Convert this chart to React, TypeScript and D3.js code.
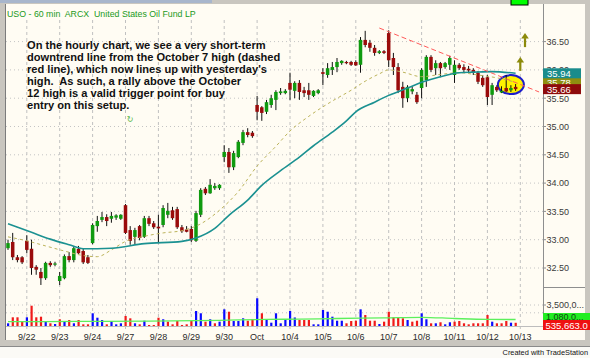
import React from "react";
import * as d3 from "d3";

// ---------- DATA ----------
const opens = [32.85,32.96,32.69,32.69,32.98,32.84,32.52,32.43,32.32,32.59,
32.56,32.27,32.32,32.71,32.64,32.84,32.80,32.69,32.94,33.24,
33.35,33.40,33.37,33.39,33.37,33.61,33.17,33.05,33.24,33.05,
33.38,33.29,33.23,33.26,33.44,33.52,33.54,33.22,33.18,33.19,
32.98,33.44,33.90,33.82,33.91,33.91,34.46,34.55,34.28,34.46,
34.71,34.90,34.89,35.38,35.34,35.26,35.38,35.47,35.59,35.59,
35.77,35.63,35.77,35.64,35.64,35.54,35.59,35.96,35.91,36.00,
36.05,36.12,36.14,36.14,36.14,36.09,36.53,36.48,36.39,36.30,
36.33,36.65,36.21,36.05,35.70,35.50,35.62,35.56,35.68,35.82,
36.23,36.03,36.12,36.05,36.09,35.91,36.09,36.05,36.02,36.00,
35.95,35.86,35.87,35.56,35.70,35.60,35.68,35.64,35.70];
const highs = [33.00,33.12,32.73,32.71,33.08,33.00,32.55,32.50,32.61,32.62,
32.61,32.43,32.74,32.78,32.89,32.89,32.84,32.73,33.29,33.42,
33.49,33.45,33.49,33.45,33.45,33.63,33.24,33.21,33.26,33.42,
33.42,33.33,33.44,33.61,33.65,33.58,33.58,33.26,33.24,33.24,
33.51,33.91,33.93,34.07,34.00,33.98,34.67,34.62,34.57,34.76,
34.94,34.97,34.92,35.54,35.36,35.47,35.56,35.64,35.68,35.66,
35.95,35.80,35.82,35.70,35.77,35.64,35.66,36.03,36.12,36.14,
36.21,36.17,36.16,36.16,36.17,36.58,36.69,36.53,36.44,36.35,
36.35,36.70,36.30,36.12,35.79,35.73,35.71,35.61,36.03,36.26,
36.26,36.17,36.14,36.14,36.25,36.17,36.12,36.10,36.07,36.03,
35.98,35.91,35.91,35.77,35.73,35.71,35.91,35.73,35.75];
const lows = [32.82,32.64,32.60,32.57,32.76,32.38,32.38,32.20,32.29,32.52,
32.53,32.20,32.30,32.60,32.60,32.75,32.57,32.57,32.92,33.14,
33.31,33.24,33.30,33.35,33.35,33.10,32.91,32.92,32.99,33.03,
33.24,33.19,32.94,33.22,33.38,33.35,33.19,33.12,33.13,32.96,
32.96,33.40,33.79,33.81,33.88,33.88,34.37,34.18,34.23,34.44,
34.67,34.81,34.80,35.11,35.10,35.22,35.33,35.29,35.56,35.57,
35.47,35.50,35.47,35.52,35.47,35.52,35.57,35.73,35.86,35.91,
35.96,36.09,36.10,36.07,36.07,35.95,36.40,36.32,36.25,36.28,
36.28,36.05,35.91,35.59,35.33,35.43,35.57,35.40,35.50,35.70,
35.96,35.91,35.87,36.02,36.00,35.77,36.00,35.95,35.96,35.91,
35.75,35.70,35.38,35.38,35.61,35.59,35.61,35.61,35.63];
const closes = [32.94,32.69,32.64,32.60,32.82,32.50,32.47,32.32,32.59,32.55,
32.58,32.36,32.71,32.64,32.85,32.76,32.60,32.59,33.26,33.33,
33.40,33.33,33.42,33.43,33.44,33.12,32.98,33.17,33.03,33.38,
33.28,33.22,33.20,33.56,33.51,33.38,33.22,33.15,33.14,32.99,
33.47,33.88,33.82,33.97,33.95,33.97,34.55,34.28,34.53,34.73,
34.90,34.85,34.83,35.26,35.24,35.43,35.50,35.61,35.62,35.63,
35.65,35.77,35.61,35.59,35.56,35.63,35.64,35.93,36.03,36.05,
36.14,36.16,36.12,36.09,36.08,36.53,36.44,36.39,36.30,36.33,
36.30,36.17,36.05,35.64,35.50,35.70,35.66,35.43,36.00,36.23,
36.00,36.12,36.03,36.12,36.21,36.09,36.03,36.00,35.99,35.95,
35.79,35.73,35.52,35.73,35.64,35.63,35.62,35.68,35.66];
const volumes = [450000,1450000,1450000,830000,1450000,3380000,1450000,1550000,830000,450000,
330000,1120000,720000,1000000,450000,1000000,280000,280000,2120000,1380000,
1000000,280000,830000,280000,450000,1670000,1280000,450000,280000,880000,
170000,170000,1380000,1120000,720000,280000,830000,170000,280000,830000,
2500000,2120000,720000,1120000,450000,720000,2780000,2380000,830000,830000,
1280000,880000,1170000,4620000,2120000,1120000,550000,2120000,450000,1120000,
2500000,1420000,1000000,1000000,1000000,280000,280000,2670000,2380000,1550000,
880000,880000,450000,830000,880000,2780000,1830000,880000,880000,330000,
720000,2380000,1450000,1450000,1280000,1000000,720000,880000,2120000,1120000,
450000,450000,620000,280000,620000,720000,830000,450000,280000,450000,
450000,450000,1830000,720000,450000,450000,830000,550000,535663];

// slow moving average (teal) at bar indices
const slowMaIdx = [0,5,9,13,16,22,29,37,40,44,47,51,54,58,62,65,69,72,74,78,81,85,88,92,96,99,103,108];
const slowMaVal = [33.28,33.13,33.01,32.91,32.84,32.85,32.93,32.97,33.03,33.20,33.43,33.70,33.96,34.22,34.46,34.66,34.90,35.10,35.26,35.43,35.55,35.68,35.78,35.88,35.95,35.96,35.97,35.94];
// fast moving average (dashed olive)
const fastMaIdx = [0,4,8,12,16,19,22,25,29,33,37,41,45,49,53,57,60,64,69,73,76,79,81,84,88,92,96,100,104,108];
const fastMaVal = [33.05,32.98,32.89,32.80,32.72,32.70,32.82,32.97,33.06,33.12,33.16,33.28,33.52,33.85,34.30,34.65,34.92,35.18,35.45,35.64,35.80,35.93,36.00,35.96,35.88,35.92,35.95,35.91,35.86,35.78];
// volume average (green)
const volAvgIdx = [0,15,30,45,55,62,70,80,88,95,102,108];
const volAvgVal = [720000,760000,800000,950000,1100000,1150000,1250000,1350000,1450000,1250000,1100000,1080000];

const dayLabels = ["9/22","9/23","9/24","9/27","9/28","9/29","9/30","Oct","10/4","10/5","10/6","10/7","10/8","10/11","10/12","10/13"];
const dayStartIdx = [4,11,18,25,32,39,46,53,60,67,74,81,88,95,102,109];
const priceTicks = [32.5,33,33.5,34,34.5,35,35.5,36,36.5];
const volTicks = [3500000];
const volGrid = [3500000,2200000];

// annotations (bar index, price)
const trendFrom = [79, 36.74];
const trendTo = [113, 35.61];
const arrowTips = [[110, 36.65],[109, 36.23]];
const circleCenter = [107, 35.74];
const markerPos = [26, 35.08];

const noteLines = [
  "On the hourly chart, we see a very short-term",
  "downtrend line from the October 7 high (dashed",
  "red line), which now lines up with yesterday's",
  "high.  As such, a rally above the October",
  "12 high is a valid trigger point for buy",
  "entry on this setup.",
];
const title = "USO - 60 min  ARCX  United States Oil Fund LP";

const FONT = "'Liberation Sans', Arial, Helvetica, sans-serif";

export default function App() {
  const W = 590, H = 358;
  const plotL = 6, plotR = 543, gridTop = 20, gridBot = 331;
  const x = d3.scaleLinear().domain([0, 108]).range([8, 515.6]);
  const y = d3.scaleLinear().domain([32.5, 36.5]).range([268, 41.6]);
  const yv = d3.scaleLinear().domain([0, 3500000]).range([326, 305]);
  const f2 = d3.format(".2f");
  const fc = d3.format(",");

  const line = d3.line<[number, number]>().x(d => x(d[0])).y(d => y(d[1])).curve(d3.curveMonotoneX);
  const vline = d3.line<[number, number]>().x(d => x(d[0])).y(d => yv(d[1])).curve(d3.curveMonotoneX);
  const slowPts = d3.zip(slowMaIdx, slowMaVal) as [number, number][];
  const fastPts = d3.zip(fastMaIdx, fastMaVal) as [number, number][];
  const volPts = d3.zip(volAvgIdx, volAvgVal) as [number, number][];

  const bw = 3.5;
  const last = closes.length - 1;
  const labelBoxes = [
    { v: fastMaVal[fastMaVal.length - 1], fill: "#8f8f10" },
    { v: slowMaVal[slowMaVal.length - 1], fill: "#1a8c8c" },
    { v: closes[last], fill: "#8e0b0b" },
  ];
  const pre = { whiteSpace: "pre" as const };

  return (
    <svg width={W} height={H} style={{ position: "absolute", left: 0, top: 0, display: "block" }} fontFamily={FONT}>
      {/* window frame */}
      <rect x={0} y={0} width={W} height={H} fill="#c9c6bf" />
      <rect x={0} y={0} width={212} height={3} fill="#a8b6cc" />
      <rect x={0} y={347} width={W} height={11} fill="#fbfaf6" />
      <rect x={6} y={4} width={579} height={336} fill="#fffcf3" />
      <line x1={5.5} y1={4} x2={5.5} y2={340} stroke="#7c7c7c" />
      <line x1={0} y1={346.5} x2={W} y2={346.5} stroke="#8a8a8a" />
      <rect x={511} y={-1} width={17} height={6} fill="#00ff00" stroke="#000" strokeWidth={1} />

      {/* grid */}
      {priceTicks.map(t => (
        <line key={"hg" + t} x1={plotL} x2={plotR} y1={y(t)} y2={y(t)} stroke="#c4c4c4" strokeDasharray="1,3" />
      ))}
      {volGrid.map(t => (
        <line key={"vg" + t} x1={plotL} x2={plotR} y1={yv(t)} y2={yv(t)} stroke="#c4c4c4" strokeDasharray="1,3" />
      ))}
      {dayStartIdx.map(i => (
        <line key={"dg" + i} x1={x(i)} x2={x(i)} y1={gridTop} y2={gridBot} stroke="#c0c0c0" strokeDasharray="3,3" />
      ))}
      <line x1={plotL} x2={plotR} y1={326.5} y2={326.5} stroke="#bdbdbd" />

      {/* axes */}
      <line x1={plotR + 0.5} x2={plotR + 0.5} y1={4} y2={327} stroke="#8e8e8e" />
      <line x1={plotR} x2={585} y1={287.5} y2={287.5} stroke="#8e8e8e" />
      {priceTicks.map(t => (
        <g key={"pt" + t}>
          <line x1={plotR} x2={plotR + 3} y1={y(t)} y2={y(t)} stroke="#8e8e8e" />
          <text x={plotR + 3.5} y={y(t) + 3.3} fontSize={9} fill="#3a3a3a">{f2(t)}</text>
        </g>
      ))}
      {volTicks.map(t => (
        <g key={"vt" + t}>
          <line x1={plotR} x2={plotR + 3} y1={yv(t)} y2={yv(t)} stroke="#8e8e8e" />
          <text x={plotR + 3.5} y={yv(t) + 3.3} fontSize={9} fill="#3a3a3a">{fc(t).slice(0, 7) + "..."}</text>
        </g>
      ))}
      {dayStartIdx.map((i, k) => (
        <text key={"dl" + i} x={x(i)} y={340} fontSize={9} fill="#2a2a2a" textAnchor="middle">{dayLabels[k]}</text>
      ))}

      {/* title */}
      <text x={7} y={16.5} fontSize={8.8} fill="#229a22" style={pre}>{title}</text>

      {/* note */}
      {noteLines.map((s, k) => (
        <text key={"n" + k} x={27} y={48.5 + k * 12.1} fontSize={11.1} fontWeight="bold" fill="#111" style={pre}>{s}</text>
      ))}
      <text x={x(markerPos[0])} y={y(markerPos[1])} fontSize={8} fill="#55b84a" textAnchor="middle" fontFamily="DejaVu Sans">↻</text>

      {/* highlight ellipse */}
      <ellipse cx={x(circleCenter[0])} cy={y(circleCenter[1])} rx={13} ry={9.5} fill="#fff200" stroke="#1c1ccc" strokeWidth={2} />

      {/* candles */}
      {opens.map((o, i) => {
        const c = closes[i];
        const up = c >= o;
        const top = y(Math.max(o, c));
        const bot = y(Math.min(o, c));
        return (
          <g key={"c" + i}>
            <line x1={x(i)} x2={x(i)} y1={y(highs[i])} y2={y(lows[i])} stroke="#111" strokeWidth={1} />
            <rect x={x(i) - bw / 2} y={top} width={bw} height={Math.max(1.2, bot - top)} fill={up ? "#0f9a0f" : "#9a0b0b"} />
          </g>
        );
      })}

      {/* moving averages */}
      <path d={line(fastPts) || ""} fill="none" stroke="#bcb35a" strokeWidth={1} strokeDasharray="3,3" />
      <path d={line(slowPts) || ""} fill="none" stroke="#1b9191" strokeWidth={1.6} />

      {/* trend line */}
      <line x1={x(trendFrom[0])} y1={y(trendFrom[1])} x2={x(trendTo[0])} y2={y(trendTo[1])} stroke="#ff5a5a" strokeWidth={1} strokeDasharray="5,3" />

      {/* arrows */}
      {arrowTips.map((p, k) => {
        const ax = x(p[0]), ay = y(p[1]);
        return (
          <g key={"a" + k} fill="#8c8a0a">
            <path d={`M${ax},${ay} L${ax - 3.8},${ay + 5.5} L${ax + 3.8},${ay + 5.5} Z`} />
            <rect x={ax - 1.1} y={ay + 5} width={2.2} height={9} />
          </g>
        );
      })}

      {/* volume */}
      {volumes.map((v, i) => {
        const up = i === 0 ? closes[0] >= opens[0] : closes[i] >= closes[i - 1];
        return <rect key={"v" + i} x={x(i) - 1} y={yv(v)} width={2.2} height={326 - yv(v)} fill={up ? "#0a0aff" : "#f01a1a"} />;
      })}
      <path d={vline(volPts) || ""} fill="none" stroke="#5cf05c" strokeWidth={1.3} />

      {/* right-side value boxes */}
      {labelBoxes.map((b, k) => (
        <g key={"lb" + k}>
          <rect x={plotR} y={y(b.v) - 5} width={38} height={10} fill={b.fill} />
          <text x={plotR + 4} y={y(b.v) + 3.5} fontSize={9.5} fill="#fff">{f2(b.v)}</text>
        </g>
      ))}
      <rect x={plotR} y={313} width={47} height={7} fill="#22ee22" />
      <text x={plotR + 3} y={319.5} fontSize={9} fill="#114411">{fc(Math.round(volAvgVal[volAvgVal.length - 1])).slice(0, 7) + "..."}</text>
      <rect x={plotR} y={320} width={47} height={10} fill="#ee1111" />
      <text x={plotR + 2.5} y={328.5} fontSize={9.5} fill="#fff">{fc(volumes[last]) + ".0"}</text>

      {/* footer */}
      <text x={588} y={355} fontSize={7.4} fill="#111" textAnchor="end">Created with TradeStation</text>
    </svg>
  );
}
